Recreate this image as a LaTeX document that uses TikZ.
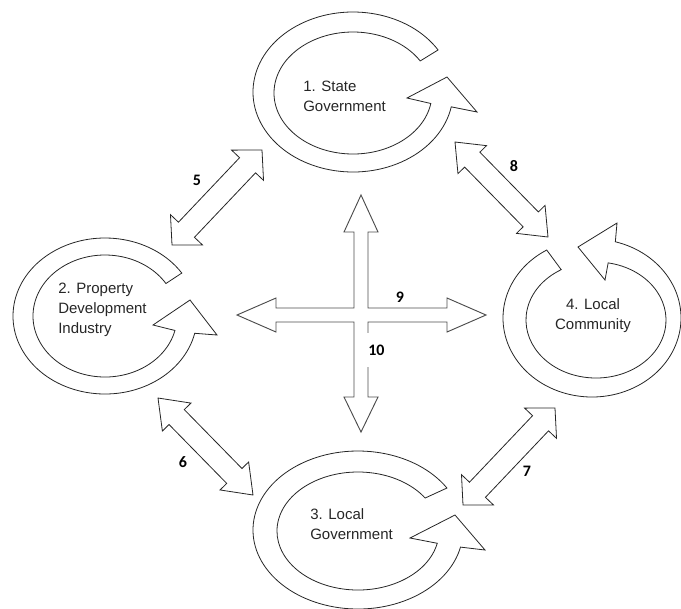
\documentclass[tikz,border=0pt]{standalone}
\usepackage{fontspec}
\setmainfont{Liberation Sans}
\newfontfamily\numfont{Carlito}
\usetikzlibrary{calc}
\newcommand{\dblarrow}[6]{%
 \path ($(#2)!#5!(#3)$) coordinate (#1a) ($(#3)!#5!(#2)$) coordinate (#1b);
 \draw[blk] (#2) -- ($(#1a)!#6!90:(#3)$) -- ($(#1a)!#4!90:(#3)$) -- ($(#1b)!#4!-90:(#2)$) -- ($(#1b)!#6!-90:(#2)$) -- (#3) -- ($(#1b)!#6!90:(#2)$) -- ($(#1b)!#4!90:(#2)$) -- ($(#1a)!#4!-90:(#3)$) -- ($(#1a)!#6!-90:(#3)$) -- cycle;}
\begin{document}
\begin{tikzpicture}[x=0.75pt,y=-0.75pt,
  ring/.style={draw=black!85, line width=0.6pt, fill=white, line join=miter},
  blk/.style={draw=black!85, line width=0.6pt, fill=white, line join=miter},
  crossarrow/.style={draw=black!70, line width=0.7pt, line join=miter},
  ringtext/.style={font=\fontsize{11.25pt}{15pt}\selectfont, inner sep=0pt, text=black!85},
  numlabel/.style={font=\numfont\bfseries\fontsize{12pt}{14pt}\selectfont, inner sep=1pt}]
\useasboundingbox (0,0) rectangle (681,608);
% 1. State Government
\draw[ring] (353,92) ++(-31.7:100 and 80) arc[start angle=-31.7,end angle=-349.3,x radius=100,y radius=80] -- (477,112) -- (447,77) -- (407,98) -- ($(353,93)+(-350.1:79 and 61)$) arc[start angle=-350.1,end angle=-31.7,x radius=79,y radius=61] -- cycle;
\node[ringtext, align=left, anchor=west] (t1) at (303,96.5) {1. State\\Government};
% 2. Property Development Industry
\draw[ring] (105,316) ++(-33.4:92 and 78) arc[start angle=-33.4,end angle=-347.2,x radius=92,y radius=78] -- (217,335) -- (190,300) -- (153,325) -- ($(105,316)+(-346.3:72 and 61)$) arc[start angle=-346.3,end angle=-32.2,x radius=72,y radius=61] -- cycle;
\node[ringtext, align=left, anchor=west] (t2) at (58,310) {2. Property\\Development\\Industry};
% 3. Local Government
\draw[ring] (358,530) ++(-32.1:105 and 79) arc[start angle=-32.1,end angle=-347.5,x radius=105,y radius=79] -- (485,550) -- (455,515) -- (410,538) -- ($(358,531)+(-348:81 and 59)$) arc[start angle=-348,end angle=-34,x radius=81,y radius=59] -- cycle;
\node[ringtext, align=left, anchor=west] (t3) at (310,524) {3. Local\\Government};
% 4. Local Community
\draw[ring] (592,318) ++(-120.6:89 and 79) arc[start angle=-120.6,end angle=-434.8,x radius=89,y radius=79] -- (617,223) -- (578,247) -- (605,280) -- ($(596,320)+(-440:70 and 58)$) arc[start angle=-440,end angle=-119.8,x radius=70,y radius=58] -- cycle;
\node[ringtext, align=center] (t4) at (593,315.5) {4. Local\\Community};
% double block arrows
\coordinate (a5s) at (172,245); \coordinate (a5e) at (262,150);
\dblarrow{a5}{a5s}{a5e}{8.25pt}{15.75pt}{16.5pt}
\coordinate (a8s) at (455,142); \coordinate (a8e) at (548,237);
\dblarrow{a8}{a8s}{a8e}{8pt}{18.5pt}{15pt}
\coordinate (a6s) at (158,398); \coordinate (a6e) at (253,495);
\dblarrow{a6}{a6s}{a6e}{8pt}{20pt}{15pt}
\coordinate (a7s) at (463,505); \coordinate (a7e) at (555,408);
\dblarrow{a7}{a7s}{a7e}{8.25pt}{15.75pt}{16.5pt}
% central cross
\draw[crossarrow] (361,195) -- (378,232) -- (368,232) -- (368,308) -- (447,308) -- (447,298) -- (486,315) -- (447,332) -- (447,322) -- (368,322) -- (368,397) -- (378,397) -- (361,432) -- (344,397) -- (354,397) -- (354,322) -- (276,322) -- (276,332) -- (237,315) -- (276,298) -- (276,308) -- (354,308) -- (354,232) -- (344,232) -- cycle;
% labels
\node[numlabel] (l5) at (197,180) {5};
\node[numlabel] (l8) at (514,166) {8};
\node[numlabel] (l6) at (183,462) {6};
\node[numlabel] (l7) at (527,471) {7};
\node[numlabel] (l9) at (400,297) {9};
\node[numlabel, fill=white, anchor=west, minimum height=25.5pt, inner xsep=1.5pt] (l10) at (366,350) {10};
\end{tikzpicture}
\end{document}
